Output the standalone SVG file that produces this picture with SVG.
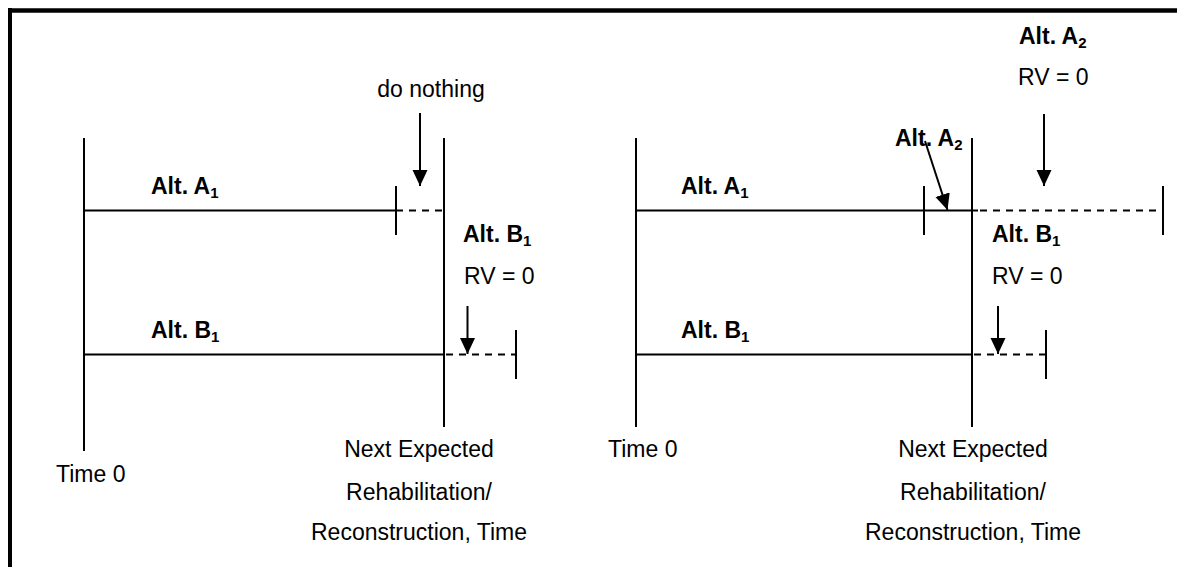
<svg xmlns="http://www.w3.org/2000/svg" width="1177" height="567" viewBox="0 0 1177 567">
<defs>
<marker id="ah" markerUnits="userSpaceOnUse" markerWidth="16" markerHeight="16" refX="16" refY="7.5" orient="auto">
<path d="M0,0 L16,7.5 L0,15 Z" fill="#000"/>
</marker>
<style>
.ln{stroke:#000;stroke-width:2;fill:none}
.ds{stroke:#000;stroke-width:2;fill:none;stroke-dasharray:7 6}
.ar{stroke:#000;stroke-width:2;fill:none;marker-end:url(#ah)}
text{font-family:"Liberation Sans",Arial,sans-serif;font-size:23px;fill:#000}
.b{font-weight:bold}
.s{font-size:15px}
</style>
</defs>
<rect width="1177" height="567" fill="#fff"/>
<g id="frame">
<line x1="8" y1="10.5" x2="1177" y2="10.5" stroke="#000" stroke-width="4.5"/>
<line x1="10" y1="8" x2="10" y2="567" stroke="#000" stroke-width="4"/>
</g>
<g id="connectors">
<!-- left panel -->
<line class="ln" x1="84" y1="138" x2="84" y2="451"/>
<line class="ln" x1="444" y1="138" x2="444" y2="427"/>
<line class="ln" x1="84" y1="210.5" x2="396" y2="210.5"/>
<line class="ds" x1="396" y1="210.5" x2="444" y2="210.5"/>
<line class="ln" x1="396" y1="186" x2="396" y2="235"/>
<line class="ar" x1="420" y1="113" x2="420" y2="186"/>
<line class="ln" x1="84" y1="354.5" x2="444" y2="354.5"/>
<line class="ds" x1="446" y1="354.5" x2="516" y2="354.5"/>
<line class="ln" x1="516" y1="330" x2="516" y2="379"/>
<line class="ar" x1="467.5" y1="306" x2="467.5" y2="354"/>
<!-- right panel -->
<line class="ln" x1="636" y1="138" x2="636" y2="427"/>
<line class="ln" x1="972" y1="138" x2="972" y2="427"/>
<line class="ln" x1="636" y1="210.5" x2="978" y2="210.5"/>
<line class="ds" x1="980" y1="210.5" x2="1163" y2="210.5"/>
<line class="ln" x1="924" y1="186" x2="924" y2="235"/>
<line class="ln" x1="1163" y1="186" x2="1163" y2="235"/>
<line class="ar" x1="925" y1="141" x2="947.5" y2="210"/>
<line class="ar" x1="1044" y1="114" x2="1044" y2="186"/>
<line class="ln" x1="636" y1="354.5" x2="972" y2="354.5"/>
<line class="ds" x1="974" y1="354.5" x2="1046" y2="354.5"/>
<line class="ln" x1="1046" y1="330" x2="1046" y2="379"/>
<line class="ar" x1="998" y1="306" x2="998" y2="354"/>
</g>
<g id="n-left-a1"><text class="b" x="151" y="194">Alt. A<tspan class="s" dy="4">1</tspan></text></g>
<g id="n-left-b1"><text class="b" x="151" y="338">Alt. B<tspan class="s" dy="4">1</tspan></text></g>
<g id="n-donothing"><text x="431" y="97" text-anchor="middle">do nothing</text></g>
<g id="n-left-b1rv"><text class="b" x="463" y="242">Alt. B<tspan class="s" dy="4">1</tspan></text><text x="464" y="284">RV = 0</text></g>
<g id="n-left-time0"><text x="56" y="482">Time 0</text></g>
<g id="n-left-next"><text x="419" y="457" text-anchor="middle">Next Expected</text><text x="419" y="500" text-anchor="middle">Rehabilitation/</text><text x="419" y="540" text-anchor="middle">Reconstruction, Time</text></g>
<g id="n-right-a1"><text class="b" x="681" y="194">Alt. A<tspan class="s" dy="4">1</tspan></text></g>
<g id="n-right-b1"><text class="b" x="681" y="338">Alt. B<tspan class="s" dy="4">1</tspan></text></g>
<g id="n-right-a2mid"><text class="b" x="895" y="146">Alt. A<tspan class="s" dy="4">2</tspan></text></g>
<g id="n-right-a2top"><text class="b" x="1019" y="44">Alt. A<tspan class="s" dy="4">2</tspan></text><text x="1018" y="85">RV = 0</text></g>
<g id="n-right-b1rv"><text class="b" x="992" y="242">Alt. B<tspan class="s" dy="4">1</tspan></text><text x="992" y="284">RV = 0</text></g>
<g id="n-right-time0"><text x="608" y="457">Time 0</text></g>
<g id="n-right-next"><text x="973" y="457" text-anchor="middle">Next Expected</text><text x="973" y="500" text-anchor="middle">Rehabilitation/</text><text x="973" y="540" text-anchor="middle">Reconstruction, Time</text></g>
</svg>
